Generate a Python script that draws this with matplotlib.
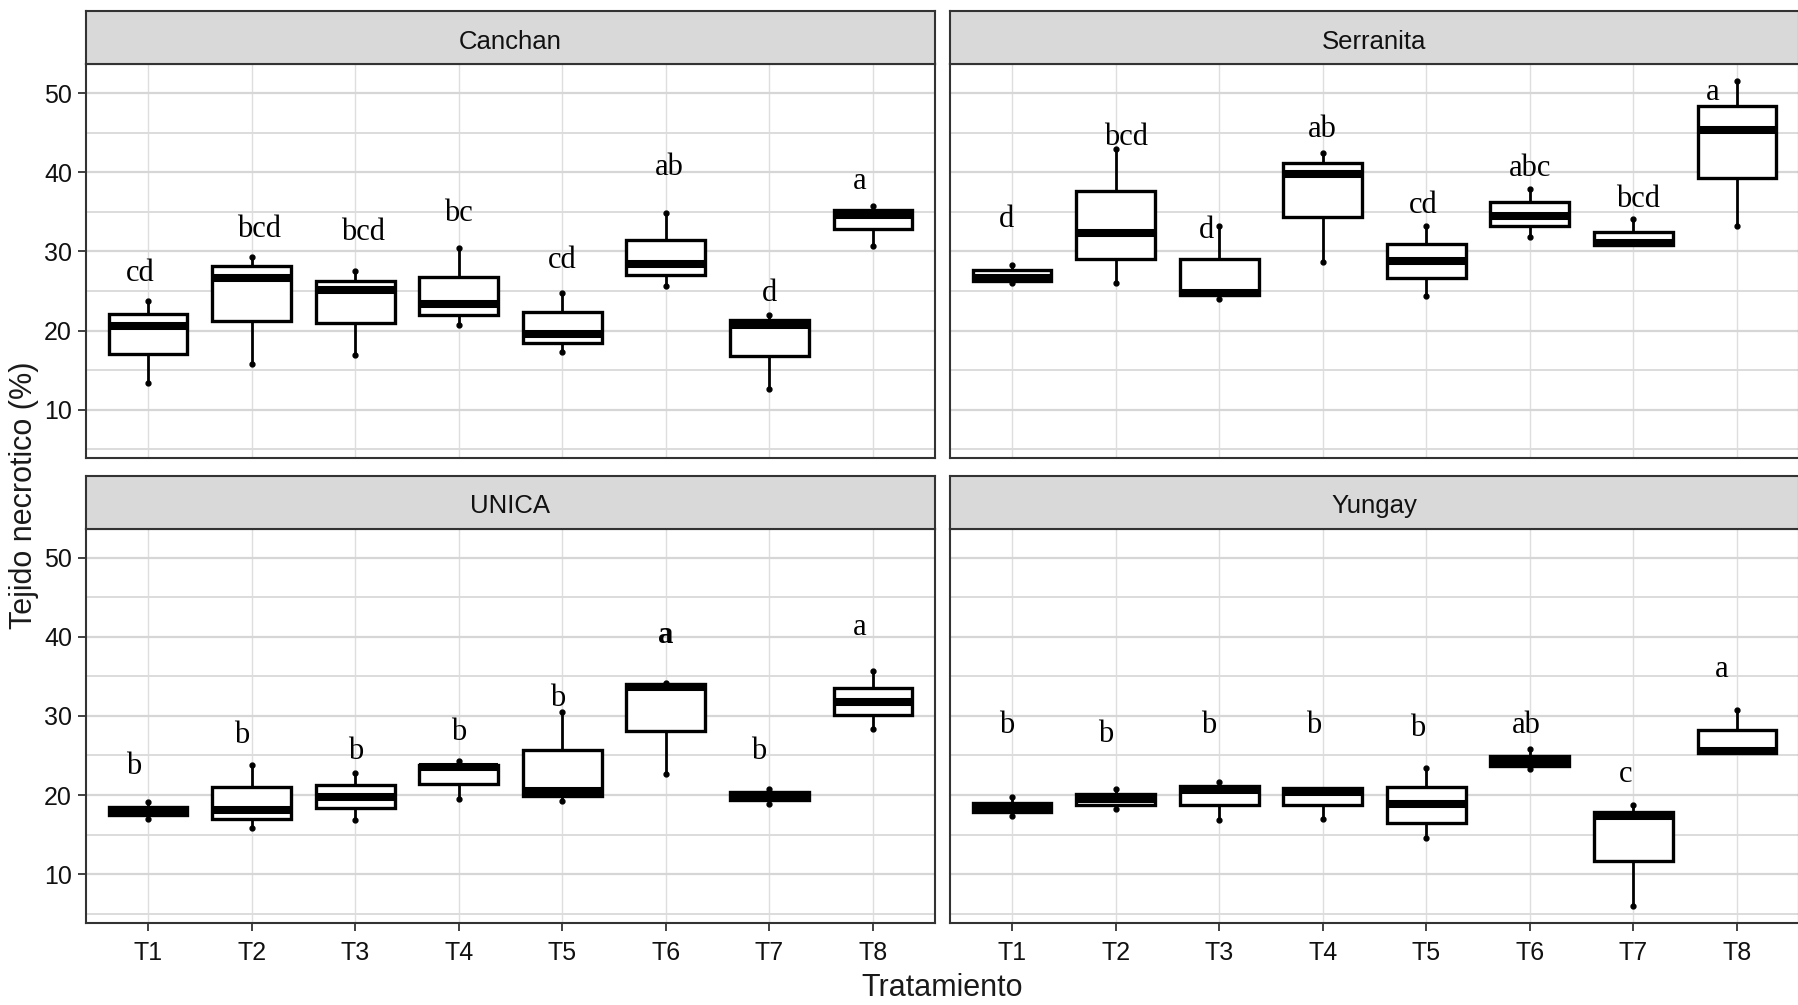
import matplotlib
matplotlib.use("Agg")
import matplotlib.pyplot as plt
from matplotlib.ticker import FixedLocator

# ---------------- data ----------------
treatments = ["T1", "T2", "T3", "T4", "T5", "T6", "T7", "T8"]
cultivars = ["Canchan", "Serranita", "UNICA", "Yungay"]

# Canchan
canchan_wlo = [13.3, 15.8, 16.9, 20.7, 17.3, 25.6, 12.6, 30.7]
canchan_q1 = [17.0, 21.2, 21.0, 22.0, 18.4, 27.0, 16.8, 32.8]
canchan_med = [20.6, 26.7, 25.1, 23.3, 19.5, 28.4, 20.7, 34.6]
canchan_q3 = [22.1, 28.2, 26.2, 26.8, 22.3, 31.5, 21.3, 35.3]
canchan_whi = [23.7, 29.35, 27.5, 30.4, 24.8, 34.9, 22.0, 35.8]
canchan_letters = ["cd", "bcd", "bcd", "bc", "cd", "ab", "d", "a"]
canchan_letter_y = [26.3, 31.8, 31.5, 33.8, 27.9, 39.7, 23.7, 37.9]
canchan_letter_dx = [-0.08, 0.07, 0.08, 0.0, 0.0, 0.03, 0.0, -0.13]

# Serranita
serranita_wlo = [26.0, 26.0, 24.0, 28.7, 24.3, 31.8, 30.8, 33.2]
serranita_q1 = [26.3, 29.1, 24.5, 34.3, 26.7, 33.2, 30.8, 39.3]
serranita_med = [26.7, 32.3, 24.8, 39.8, 28.8, 34.5, 31.1, 45.3]
serranita_q3 = [27.6, 37.6, 29.1, 41.2, 31.0, 36.3, 32.5, 48.4]
serranita_whi = [28.3, 43.0, 33.2, 42.4, 33.2, 37.9, 34.1, 51.5]
serranita_letters = ["d", "bcd", "d", "ab", "cd", "abc", "bcd", "a"]
serranita_letter_y = [33.1, 43.5, 31.75, 44.5, 34.8, 39.6, 35.6, 49.2]
serranita_letter_dx = [-0.05, 0.1, -0.12, 0.0, -0.03, 0.0, 0.05, -0.23]

# UNICA
unica_wlo = [16.9, 15.8, 16.8, 19.5, 19.2, 22.6, 18.8, 28.4]
unica_q1 = [17.5, 16.9, 18.3, 21.4, 19.9, 28.1, 19.4, 30.1]
unica_med = [18.0, 18.1, 19.7, 23.5, 20.5, 33.7, 20.0, 31.8]
unica_q3 = [18.5, 21.0, 21.3, 23.8, 25.7, 34.1, 20.4, 33.6]
unica_whi = [19.1, 23.85, 22.75, 24.3, 30.5, 34.2, 20.7, 35.7]
unica_letters = ["b", "b", "b", "b", "b", "a", "b", "a"]
unica_letter_y = [22.6, 26.6, 24.5, 27.0, 31.2, 39.2, 24.6, 40.3]
unica_letter_dx = [-0.14, -0.1, 0.0, 0.0, -0.04, 0.0, -0.1, -0.13]

# Yungay
yungay_wlo = [17.3, 18.2, 16.8, 17.0, 14.5, 23.3, 5.9, 25.3]
yungay_q1 = [17.8, 18.75, 18.7, 18.7, 16.5, 23.7, 11.6, 25.3]
yungay_med = [18.35, 19.5, 20.6, 20.4, 18.8, 24.2, 17.3, 25.6]
yungay_q3 = [19.0, 20.1, 21.2, 20.9, 21.0, 24.95, 17.8, 28.2]
yungay_whi = [19.8, 20.7, 21.65, 20.9, 23.4, 25.8, 18.7, 30.75]
yungay_letters = ["b", "b", "b", "b", "b", "ab", "c", "a"]
yungay_letter_y = [27.9, 26.7, 27.9, 27.9, 27.5, 27.8, 21.7, 34.9]
yungay_letter_dx = [-0.05, -0.1, -0.1, -0.09, -0.08, -0.03, -0.07, -0.15]

panels = {
    "Canchan": (canchan_wlo, canchan_q1, canchan_med, canchan_q3, canchan_whi,
                canchan_letters, canchan_letter_y, canchan_letter_dx),
    "Serranita": (serranita_wlo, serranita_q1, serranita_med, serranita_q3, serranita_whi,
                  serranita_letters, serranita_letter_y, serranita_letter_dx),
    "UNICA": (unica_wlo, unica_q1, unica_med, unica_q3, unica_whi,
              unica_letters, unica_letter_y, unica_letter_dx),
    "Yungay": (yungay_wlo, yungay_q1, yungay_med, yungay_q3, yungay_whi,
               yungay_letters, yungay_letter_y, yungay_letter_dx),
}
bold_letters = {("UNICA", 5)}

y_major = [10, 20, 30, 40, 50]
y_minor = [5, 15, 25, 35, 45]

# ---------------- layout ----------------
W, H = 1799, 1005
fig = plt.figure(figsize=(W / 100, H / 100), dpi=100)

def fx(px):
    return px / W

def fy(py):
    return 1 - py / H

col_left = [86, 950]
col_w = 849
panel_top = [64, 528.7]
panel_bot = [458.3, 922.7]
strip_top = [10.7, 475.7]

sans = ["Liberation Sans", "DejaVu Sans"]
serif = ["Liberation Serif", "DejaVu Serif"]
border = "#333333"

for idx, name in enumerate(cultivars):
    r, c = divmod(idx, 2)
    left = col_left[c]
    ax = fig.add_axes([fx(left), fy(panel_bot[r]), col_w / W, (panel_bot[r] - panel_top[r]) / H])
    sax = fig.add_axes([fx(left), fy(panel_top[r]), col_w / W, (panel_top[r] - strip_top[r]) / H])

    wlo, q1, med, q3, whi, letters, ly, ldx = panels[name]
    stats = []
    for i in range(len(treatments)):
        stats.append(dict(med=med[i], q1=q1[i], q3=q3[i], whislo=wlo[i], whishi=whi[i],
                          fliers=[], label=treatments[i]))
    pos = list(range(1, len(treatments) + 1))
    ax.bxp(stats, positions=pos, widths=0.76, showfliers=False, showcaps=False,
           patch_artist=True,
           boxprops=dict(facecolor="white", edgecolor="black", linewidth=2.4),
           medianprops=dict(color="black", linewidth=5.8, solid_capstyle="butt"),
           whiskerprops=dict(color="black", linewidth=2.0),
           manage_ticks=False)
    # whisker end dots
    for i, p in enumerate(pos):
        if whi[i] > q3[i]:
            ax.plot([p], [whi[i]], "o", color="black", ms=3.5, zorder=4)
        if wlo[i] < q1[i]:
            ax.plot([p], [wlo[i]], "o", color="black", ms=3.5, zorder=4)
    # significance letters
    for i, p in enumerate(pos):
        weight = "bold" if (name, i) in bold_letters else "normal"
        ax.text(p + ldx[i], ly[i], letters[i], ha="center", va="baseline",
                fontsize=22, family=serif, fontweight=weight, color="black")

    ax.set_xlim(0.4, 8.6)
    ax.set_ylim(3.84, 53.7)
    ax.yaxis.set_major_locator(FixedLocator(y_major))
    ax.yaxis.set_minor_locator(FixedLocator(y_minor))
    ax.set_xticks(pos)
    ax.set_xticklabels(treatments)
    ax.set_axisbelow(True)
    ax.grid(axis="y", which="major", color="#D6D6D6", linewidth=1.6)
    ax.grid(axis="y", which="minor", color="#DCDCDC", linewidth=1.4)
    ax.grid(axis="x", which="major", color="#DEDEDE", linewidth=1.0)
    for s in ax.spines.values():
        s.set_color(border)
        s.set_linewidth(1.5)
    ax.tick_params(axis="both", which="minor", length=0)
    ax.tick_params(axis="both", which="major", length=6, width=1.3, color=border,
                   labelsize=18, labelcolor="#111111")
    ax.tick_params(axis="x", which="major", pad=7)
    ax.tick_params(axis="y", which="major", pad=4)
    if c == 1:
        ax.tick_params(axis="y", which="major", length=0, labelleft=False)
    if r == 0:
        ax.tick_params(axis="x", which="major", length=0, labelbottom=False)
    for lab in ax.get_xticklabels() + ax.get_yticklabels():
        lab.set_family(sans)

    # strip
    sax.set_facecolor("#D9D9D9")
    sax.set_xticks([])
    sax.set_yticks([])
    for s in sax.spines.values():
        s.set_color(border)
        s.set_linewidth(1.5)
    sax.text(0.5, 0.42, name, ha="center", va="center", transform=sax.transAxes,
             fontsize=18.5, family=sans, color="#111111")

# axis titles
fig.text(fx(942.5), fy(988), "Tratamiento", ha="center", va="center",
         fontsize=22, family=sans, color="#1a1a1a")
fig.text(fx(24), fy(495), "Tejido necrotico (%)", ha="center", va="center",
         rotation=90, fontsize=22, family=sans, color="#1a1a1a")

fig.savefig("out.png", dpi=100, facecolor="white")
